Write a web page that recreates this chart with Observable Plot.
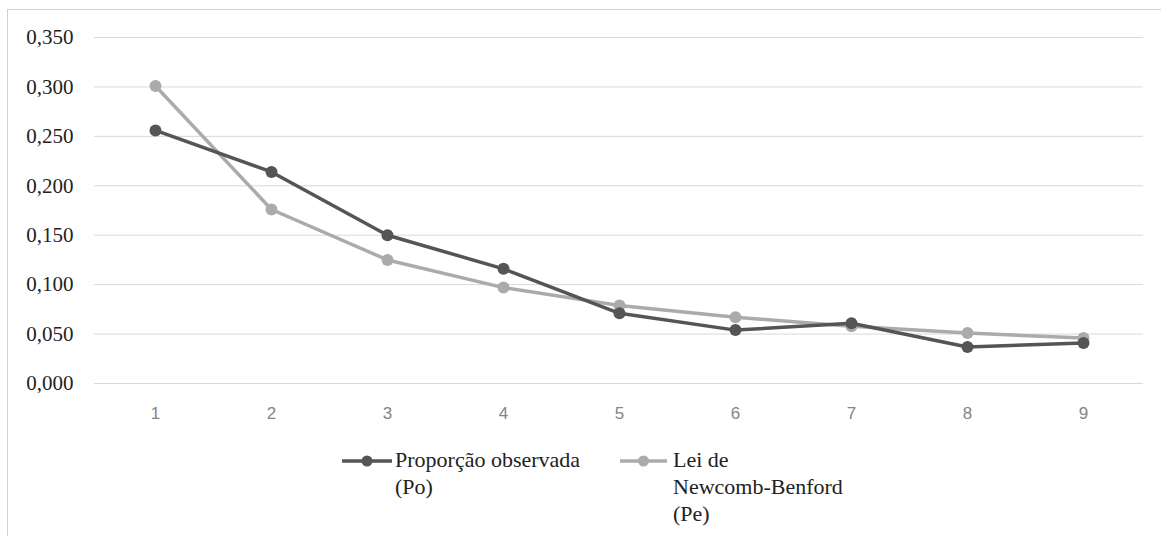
<!DOCTYPE html>
<html>
<head>
<meta charset="utf-8">
<script src="https://cdn.jsdelivr.net/npm/d3@7"></script>
<script src="https://cdn.jsdelivr.net/npm/@observablehq/plot@0.6"></script>
<style>
  html, body { margin: 0; padding: 0; background: #fff; }
  #wrap { position: relative; width: 1161px; height: 536px; overflow: hidden; }
  #frame { position: absolute; left: 7px; top: 9px; width: 1170px; height: 540px; border: 1px solid #d0d0d0; box-sizing: border-box; }
  #chart { position: absolute; left: 0; top: 0; }
  .leg { position: absolute; font-family: "Liberation Serif", "Times New Roman", serif; font-size: 22px; line-height: 27px; color: #222; white-space: nowrap; }
  .sw { position: absolute; }
</style>
</head>
<body>
<div id="wrap">
  <div id="frame"></div>
  <div id="chart"></div>
</div>
<script>
const digits = [1, 2, 3, 4, 5, 6, 7, 8, 9];
const observed = [0.256, 0.214, 0.150, 0.116, 0.071, 0.054, 0.061, 0.037, 0.041];
const benford = [0.301, 0.176, 0.125, 0.097, 0.079, 0.067, 0.058, 0.051, 0.046];
const yTicks = [0, 0.05, 0.10, 0.15, 0.20, 0.25, 0.30, 0.35];
const seriesNames = ["Proporção observada (Po)", "Lei de Newcomb-Benford (Pe)"];
const legendLines = [["Proporção observada", "(Po)"], ["Lei de", "Newcomb-Benford", "(Pe)"]];
const colors = ["#555555", "#ababab"];

const rows = [];
digits.forEach((d, i) => {
  rows.push({digit: d, value: observed[i], series: seriesNames[0]});
  rows.push({digit: d, value: benford[i], series: seriesNames[1]});
});

const fmt = v => d3.format(".3f")(v).replace(".", ",");

const plot = Plot.plot({
  width: 1161,
  height: 440,
  marginTop: 37,
  marginBottom: 57,
  marginLeft: 94,
  marginRight: 18,
  style: {background: "transparent", overflow: "visible"},
  x: {type: "point", domain: digits, padding: 0.5, label: null},
  y: {domain: [0, 0.35], label: null},
  color: {domain: seriesNames, range: colors},
  marks: [
    Plot.gridY(yTicks, {stroke: "#d9d9d9", strokeOpacity: 1, strokeWidth: 1}),
    Plot.axisY(yTicks, {tickSize: 0, tickPadding: 21, tickFormat: fmt, label: null}),
    Plot.axisX(digits, {tickSize: 0, tickPadding: 23, label: null}),
    Plot.line(rows.filter(r => r.series === seriesNames[1]), {x: "digit", y: "value", stroke: colors[1], strokeWidth: 3.5}),
    Plot.dot(rows.filter(r => r.series === seriesNames[1]), {x: "digit", y: "value", fill: colors[1], r: 6}),
    Plot.line(rows.filter(r => r.series === seriesNames[0]), {x: "digit", y: "value", stroke: colors[0], strokeWidth: 3.5}),
    Plot.dot(rows.filter(r => r.series === seriesNames[0]), {x: "digit", y: "value", fill: colors[0], r: 6})
  ]
});
document.getElementById("chart").appendChild(plot);

// Style tick labels: y ticks in serif, x ticks in grey sans
d3.select(plot).selectAll("text").each(function () {
  const s = this.textContent;
  if (s.includes(",")) {
    this.style.fontFamily = '"Liberation Serif", "Times New Roman", serif';
    this.style.fontSize = "21px";
    this.style.fill = "#222";
  } else {
    this.style.fontFamily = '"Liberation Sans", Arial, sans-serif';
    this.style.fontSize = "17px";
    this.style.fill = "#858585";
  }
});

// Legend (HTML below the plot area)
const wrap = document.getElementById("wrap");
const legPos = [{lx: 342, lw: 50, tx: 395}, {lx: 620, lw: 47, tx: 673}];
legendLines.forEach((lines, i) => {
  const p = legPos[i];
  const sw = document.createElementNS("http://www.w3.org/2000/svg", "svg");
  sw.setAttribute("class", "sw");
  sw.setAttribute("width", p.lw);
  sw.setAttribute("height", 14);
  sw.style.left = p.lx + "px";
  sw.style.top = (461 - 7) + "px";
  sw.innerHTML = `<line x1="0" x2="${p.lw}" y1="7" y2="7" stroke="${colors[i]}" stroke-width="3.5"/>` +
                 `<circle cx="${p.lw / 2}" cy="7" r="5.5" fill="${colors[i]}"/>`;
  wrap.appendChild(sw);
  const t = document.createElement("div");
  t.className = "leg";
  t.style.left = p.tx + "px";
  t.style.top = "446px";
  t.innerHTML = lines.join("<br>");
  wrap.appendChild(t);
});
</script>
</body>
</html>
